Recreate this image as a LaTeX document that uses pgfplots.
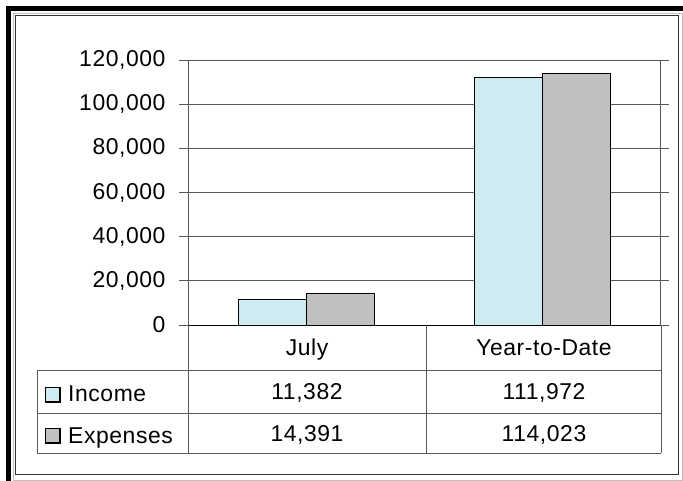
\documentclass[border=0pt]{standalone}
\usepackage{fontspec}
\setmainfont[LetterSpace=2.5]{Liberation Sans}
\usepackage{pgfplots}
\pgfplotsset{compat=1.18}
\definecolor{income}{RGB}{206,235,241}
\definecolor{expenses}{RGB}{192,192,192}
\newcommand{\tf}{\fontsize{23}{27}\selectfont}
\begin{document}
\begin{tikzpicture}
\useasboundingbox (0,0) rectangle (683bp,-481bp);
\fill[white] (0,0) rectangle (683bp,-481bp);
% outer frame
\fill[black] (6bp,-6bp) rectangle (683bp,-11bp);
\fill[black] (6bp,-6bp) rectangle (11bp,-481bp);
\draw[black!25, line width=0.8bp] (13bp,-481bp) -- (13bp,-13bp) -- (683bp,-13bp);
\draw[black!25, line width=0.8bp] (13bp,-480bp) -- (682bp,-480bp) -- (682bp,-13bp);
\draw[black!80, line width=1bp] (15.5bp,-15.5bp) rectangle (678.5bp,-474.5bp);
\begin{axis}[
  at={(188bp,-325bp)}, anchor=south west,
  scale only axis, width=472bp, height=265bp,
  ybar=0pt, bar width=68bp,
  xmin=-0.5, xmax=1.5, ymin=0, ymax=120000,
  xtick=\empty,
  ytick={0,20000,40000,60000,80000,100000,120000},
  yticklabels={0,{20,000},{40,000},{60,000},{80,000},{100,000},{120,000}},
  scaled y ticks=false,
  ymajorgrids, grid style={black!65, line width=0.9bp},
  axis line style={black!65, line width=0.9bp},
  tick align=outside, major tick length=9bp,
  tick style={black!65, line width=0.9bp},
  yticklabel style={font=\tf, xshift=-10bp},
]
\addplot[fill=income, draw=black, line width=1bp] coordinates {(0,11382) (1,111972)};
\addplot[fill=expenses, draw=black, line width=1bp] coordinates {(0,14391) (1,114023)};
\draw[black, line width=1bp] (axis cs:-0.5,0) -- (axis cs:1.5,0);
\end{axis}
% data table
\begin{scope}[black!65, line width=0.9bp]
\draw (188bp,-325bp) -- (188bp,-453bp);
\draw (426bp,-325bp) -- (426bp,-453bp);
\draw (661bp,-325bp) -- (661bp,-453bp);
\draw (37bp,-370bp) -- (661bp,-370bp);
\draw (37bp,-413bp) -- (661bp,-413bp);
\draw (37bp,-453bp) -- (661bp,-453bp);
\draw (37bp,-370bp) -- (37bp,-453bp);
\end{scope}
\node[font=\tf, anchor=base, inner sep=0] at (307bp,-355bp) {July};
\node[font=\tf, anchor=base, inner sep=0] at (544bp,-355bp) {Year-to-Date};
\draw[fill=income, draw=black, line width=1.2bp] (45.5bp,-387.5bp) rectangle (60bp,-402bp);
\draw[fill=expenses, draw=black, line width=1.2bp] (45.5bp,-428.5bp) rectangle (60bp,-443bp);
\node[font=\tf, anchor=base west, inner sep=0] at (68bp,-401.5bp) {Income};
\node[font=\tf, anchor=base west, inner sep=0] at (68bp,-443bp) {Expenses};
\node[font=\tf, anchor=base, inner sep=0] at (307bp,-399.5bp) {11,382};
\node[font=\tf, anchor=base, inner sep=0] at (544bp,-399.5bp) {111,972};
\node[font=\tf, anchor=base, inner sep=0] at (307bp,-441.5bp) {14,391};
\node[font=\tf, anchor=base, inner sep=0] at (544bp,-441.5bp) {114,023};
\end{tikzpicture}
\end{document}
